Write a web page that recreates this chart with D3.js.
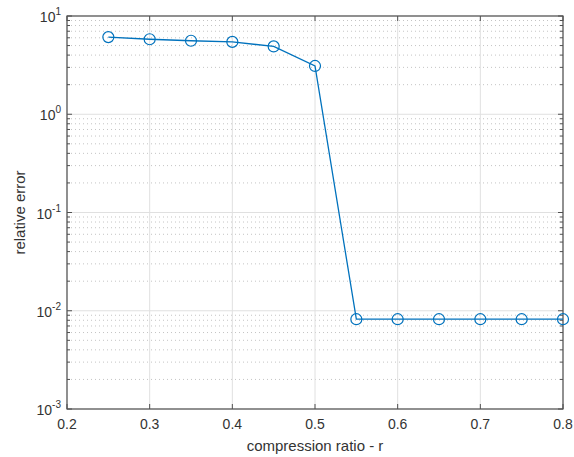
<!DOCTYPE html>
<html>
<head>
<meta charset="utf-8">
<script src="https://cdn.jsdelivr.net/npm/d3@7"></script>
<style>
  body { margin: 0; background: #fff; }
  svg { display: block; font-family: "Liberation Sans", Arial, sans-serif; }
</style>
</head>
<body>
<div id="chart"></div>
<script>
// data
const ratios = [0.25, 0.3, 0.35, 0.4, 0.45, 0.5, 0.55, 0.6, 0.65, 0.7, 0.75, 0.8];
const errors = [6.1, 5.8, 5.6, 5.45, 4.9, 3.1, 0.0082, 0.0082, 0.0082, 0.0082, 0.0082, 0.0082];
const xTicks = [0.2, 0.3, 0.4, 0.5, 0.6, 0.7, 0.8];
const yExponents = [-3, -2, -1, 0, 1];

const width = 574;
const height = 457;
const margin = { top: 16, right: 11, bottom: 48, left: 67 };

const svg = d3.select('#chart')
  .append('svg')
  .attr('width', width)
  .attr('height', height);

const xScale = d3.scaleLinear()
  .domain([0.2, 0.8])
  .range([margin.left, width - margin.right]);

const yScale = d3.scaleLog()
  .domain([1e-3, 1e1])
  .range([height - margin.bottom, margin.top]);

const x0 = margin.left, x1 = width - margin.right;
const y0 = height - margin.bottom, y1 = margin.top;

// minor grid values 2..9 x 10^k
const minorVals = [];
yExponents.slice(0, -1).forEach(e => {
  for (let m = 2; m <= 9; m++) minorVals.push(m * Math.pow(10, e));
});
const majorVals = yExponents.map(e => Math.pow(10, e));

// minor grid (dotted)
svg.append('g').selectAll('line')
  .data(minorVals)
  .join('line')
  .attr('x1', x0).attr('x2', x1)
  .attr('y1', d => yScale(d)).attr('y2', d => yScale(d))
  .attr('stroke', '#c4c4c4')
  .attr('stroke-width', 1)
  .attr('stroke-dasharray', '1,3');

// major grid
svg.append('g').selectAll('line')
  .data(majorVals)
  .join('line')
  .attr('x1', x0).attr('x2', x1)
  .attr('y1', d => yScale(d)).attr('y2', d => yScale(d))
  .attr('stroke', '#e0e0e0');

svg.append('g').selectAll('line')
  .data(xTicks)
  .join('line')
  .attr('x1', d => xScale(d)).attr('x2', d => xScale(d))
  .attr('y1', y0).attr('y2', y1)
  .attr('stroke', '#e0e0e0');

// ticks (inside, on all four sides)
const axisColor = '#505050';
const tk = svg.append('g').attr('stroke', axisColor).attr('stroke-width', 1);
xTicks.forEach(t => {
  tk.append('line').attr('x1', xScale(t)).attr('x2', xScale(t)).attr('y1', y0).attr('y2', y0 - 5);
  tk.append('line').attr('x1', xScale(t)).attr('x2', xScale(t)).attr('y1', y1).attr('y2', y1 + 5);
});
majorVals.forEach(v => {
  tk.append('line').attr('x1', x0).attr('x2', x0 + 5).attr('y1', yScale(v)).attr('y2', yScale(v));
  tk.append('line').attr('x1', x1).attr('x2', x1 - 5).attr('y1', yScale(v)).attr('y2', yScale(v));
});
minorVals.forEach(v => {
  tk.append('line').attr('x1', x0).attr('x2', x0 + 3).attr('y1', yScale(v)).attr('y2', yScale(v));
  tk.append('line').attr('x1', x1).attr('x2', x1 - 3).attr('y1', yScale(v)).attr('y2', yScale(v));
});

// box
svg.append('rect')
  .attr('x', x0).attr('y', y1)
  .attr('width', x1 - x0).attr('height', y0 - y1)
  .attr('fill', 'none')
  .attr('stroke', axisColor)
  .attr('stroke-width', 1.2);

// x tick labels
svg.append('g').selectAll('text')
  .data(xTicks)
  .join('text')
  .attr('x', d => xScale(d))
  .attr('y', y0 + 20)
  .attr('text-anchor', 'middle')
  .attr('font-size', 14)
  .attr('fill', '#333')
  .text(d => d3.format('.1f')(d));

// y tick labels 10^k (right-aligned, exponent included)
const yl = svg.append('g').selectAll('text')
  .data(yExponents)
  .join('text')
  .attr('x', x0 - 6)
  .attr('y', d => yScale(Math.pow(10, d)) + 6)
  .attr('text-anchor', 'end')
  .attr('font-size', 14)
  .attr('fill', '#333');
yl.append('tspan').text('10');
yl.append('tspan')
  .attr('font-size', 10)
  .attr('dy', -7)
  .text(d => d);

// axis labels
svg.append('text')
  .attr('x', (x0 + x1) / 2)
  .attr('y', height - 6)
  .attr('text-anchor', 'middle')
  .attr('font-size', 15)
  .attr('fill', '#333')
  .text('compression ratio - r');

svg.append('text')
  .attr('transform', `translate(25, ${(y0 + y1) / 2}) rotate(-90)`)
  .attr('text-anchor', 'middle')
  .attr('font-size', 15)
  .attr('fill', '#333')
  .text('relative error');

// series
const chartData = ratios.map((r, i) => ({ x: r, y: errors[i] }));
const line = d3.line()
  .x(d => xScale(d.x))
  .y(d => yScale(d.y));

svg.append('path')
  .datum(chartData)
  .attr('fill', 'none')
  .attr('stroke', '#0072BD')
  .attr('stroke-width', 1.3)
  .attr('d', line);

svg.append('g').selectAll('circle')
  .data(chartData)
  .join('circle')
  .attr('cx', d => xScale(d.x))
  .attr('cy', d => yScale(d.y))
  .attr('r', 5.5)
  .attr('fill', 'none')
  .attr('stroke', '#0072BD')
  .attr('stroke-width', 1.2);
</script>
</body>
</html>
